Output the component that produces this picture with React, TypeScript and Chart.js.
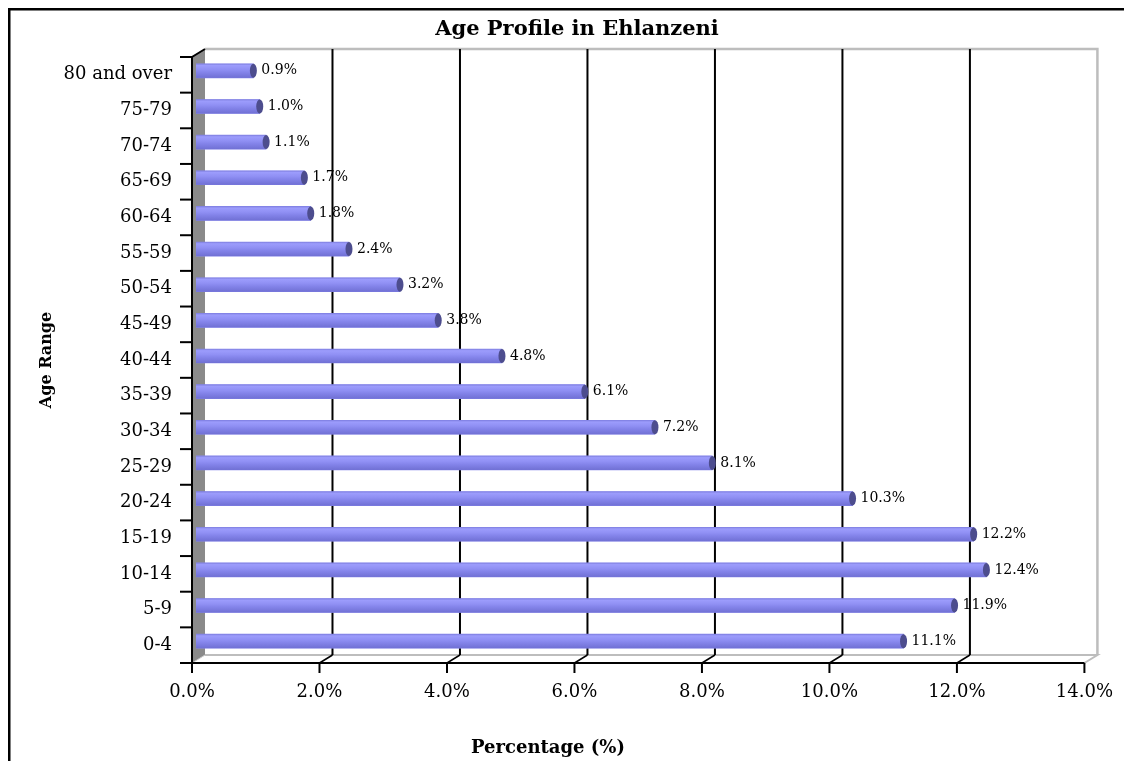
import React, { useEffect, useRef } from 'react';
import { Chart, registerables } from 'chart.js';
Chart.register(...registerables);

// Categories listed top to bottom as shown in the chart
const categories = ['80 and over', '75-79', '70-74', '65-69', '60-64', '55-59', '50-54', '45-49', '40-44', '35-39', '30-34', '25-29', '20-24', '15-19', '10-14', '5-9', '0-4'];
const values = [0.9, 1.0, 1.1, 1.7, 1.8, 2.4, 3.2, 3.8, 4.8, 6.1, 7.2, 8.1, 10.3, 12.2, 12.4, 11.9, 11.1];
const xTicks = [0, 2, 4, 6, 8, 10, 12, 14];
const chartTitle = 'Age Profile in Ehlanzeni';
const xTitle = 'Percentage (%)';
const yTitle = 'Age Range';

const FONT = "'DejaVu Serif', serif";
const DX = 13;
const DY = -8;
const W = 1124;
const H = 753;

const decorPlugin = {
  id: 'decor3d',
  beforeDraw(chart: any) {
    const ctx = chart.ctx;
    ctx.save();
    ctx.fillStyle = '#ffffff';
    ctx.fillRect(0, 0, chart.width, chart.height);
    ctx.strokeStyle = '#000';
    ctx.lineWidth = 2.5;
    ctx.beginPath();
    ctx.moveTo(1.25, chart.height + 5);
    ctx.lineTo(1.25, 1.25);
    ctx.lineTo(chart.width + 5, 1.25);
    ctx.stroke();
    ctx.restore();
  },
  beforeDatasetsDraw(chart: any) {
    const ctx = chart.ctx;
    const { left, right, top, bottom } = chart.chartArea;
    const xs = chart.scales.x;
    ctx.save();
    // back wall border (top and right)
    ctx.strokeStyle = '#BDBDBD';
    ctx.lineWidth = 2.5;
    ctx.beginPath();
    ctx.moveTo(left + DX, top + DY);
    ctx.lineTo(right + DX, top + DY);
    ctx.lineTo(right + DX, bottom + DY);
    ctx.stroke();
    // floor back edge and right diagonal
    ctx.lineWidth = 2;
    ctx.beginPath();
    ctx.moveTo(left + DX, bottom + DY);
    ctx.lineTo(right + DX, bottom + DY);
    ctx.lineTo(right, bottom);
    ctx.stroke();
    // left wall
    ctx.fillStyle = '#8A8A8A';
    ctx.beginPath();
    ctx.moveTo(left, top);
    ctx.lineTo(left + DX, top + DY);
    ctx.lineTo(left + DX, bottom + DY);
    ctx.lineTo(left, bottom);
    ctx.closePath();
    ctx.fill();
    ctx.strokeStyle = '#C8C8C8';
    ctx.lineWidth = 1;
    ctx.beginPath();
    ctx.moveTo(left + DX, bottom + DY);
    ctx.lineTo(left, bottom);
    ctx.stroke();
    // grid lines on back wall
    ctx.strokeStyle = '#000';
    ctx.lineWidth = 2;
    xTicks.forEach((v) => {
      if (v === xTicks[0] || v === xTicks[xTicks.length - 1]) return;
      const x = xs.getPixelForValue(v) + DX;
      ctx.beginPath();
      ctx.moveTo(x, top + DY);
      ctx.lineTo(x, bottom + DY);
      ctx.stroke();
    });
    // x axis line + ticks + diagonals
    ctx.beginPath();
    ctx.moveTo(left, bottom);
    ctx.lineTo(right, bottom);
    ctx.stroke();
    xTicks.forEach((v, i) => {
      const x = xs.getPixelForValue(v);
      ctx.beginPath();
      ctx.moveTo(x, bottom);
      ctx.lineTo(x, bottom + 10);
      ctx.stroke();
      if (i > 0 && i < xTicks.length - 1) {
        ctx.lineWidth = 1.5;
        ctx.beginPath();
        ctx.moveTo(x, bottom);
        ctx.lineTo(x + DX, bottom + DY);
        ctx.stroke();
        ctx.lineWidth = 2;
      }
    });
    // y axis front line, top diagonal and ticks
    ctx.beginPath();
    ctx.moveTo(left, bottom);
    ctx.lineTo(left, top);
    ctx.lineTo(left + DX, top + DY);
    ctx.stroke();
    const n = categories.length;
    for (let i = 0; i <= n; i++) {
      const y = top + (i * (bottom - top)) / n;
      ctx.beginPath();
      ctx.moveTo(left - 12, y);
      ctx.lineTo(left, y);
      ctx.stroke();
    }
    ctx.restore();
    // shift bars into mid-depth
    ctx.save();
    ctx.translate(4, -4);
  },
  afterDatasetsDraw(chart: any) {
    const ctx = chart.ctx;
    const meta = chart.getDatasetMeta(0);
    meta.data.forEach((el: any) => {
      const h = el.height;
      const y0 = el.y - h / 2;
      const g = ctx.createLinearGradient(0, y0, 0, y0 + h);
      g.addColorStop(0, '#8080E0');
      g.addColorStop(0.12, '#9C9CFC');
      g.addColorStop(0.4, '#9090F4');
      g.addColorStop(0.6, '#8484EA');
      g.addColorStop(1, '#7070D4');
      ctx.fillStyle = g;
      ctx.fillRect(el.base, y0, el.x - el.base, h);
      ctx.fillStyle = '#4D4D8E';
      ctx.beginPath();
      ctx.ellipse(el.x, el.y, 3.5, h / 2, 0, 0, Math.PI * 2);
      ctx.fill();
    });
    ctx.restore();
    // data labels
    ctx.save();
    ctx.fillStyle = '#000';
    ctx.font = `14px ${FONT}`;
    ctx.textAlign = 'left';
    ctx.textBaseline = 'middle';
    meta.data.forEach((el: any, i: number) => {
      ctx.fillText(values[i].toFixed(1) + '%', el.x + 4 + 8, el.y - 4);
    });
    ctx.restore();
  },
  afterDraw(chart: any) {
    const ctx = chart.ctx;
    ctx.save();
    ctx.fillStyle = '#000';
    ctx.textAlign = 'center';
    ctx.textBaseline = 'middle';
    ctx.font = `bold 21px ${FONT}`;
    ctx.fillText(chartTitle, 569, 22);
    ctx.font = `bold 18px ${FONT}`;
    ctx.fillText(xTitle, 540, 740);
    ctx.font = `bold 16px ${FONT}`;
    ctx.translate(39, 352);
    ctx.rotate(-Math.PI / 2);
    ctx.fillText(yTitle, 0, 0);
    ctx.restore();
  },
};

export default function App() {
  const ref = useRef<HTMLCanvasElement | null>(null);
  useEffect(() => {
    if (!ref.current) return;
    const chart = new Chart(ref.current, {
      type: 'bar',
      data: {
        labels: categories,
        datasets: [
          {
            label: 'Percentage',
            data: values,
            backgroundColor: '#8585EC',
            borderWidth: 0,
            barThickness: 14,
          },
        ],
      },
      options: {
        indexAxis: 'y',
        responsive: false,
        animation: false,
        layout: { padding: { top: 49, right: 45, bottom: 0, left: 0 } },
        plugins: {
          legend: { display: false },
          tooltip: { enabled: false },
          title: { display: false },
        },
        scales: {
          x: {
            type: 'linear',
            min: 0,
            max: 14,
            afterFit: (s: any) => {
              s.height = H - 655;
            },
            afterBuildTicks: (s: any) => {
              s.ticks = xTicks.map((v) => ({ value: v }));
            },
            ticks: {
              padding: 19,
              color: '#000',
              font: { family: FONT, size: 18 },
              callback: (v: any) => Number(v).toFixed(1) + '%',
            },
            grid: { display: false, drawTicks: false },
            border: { display: false },
          },
          y: {
            type: 'category',
            afterFit: (s: any) => {
              s.width = 184;
            },
            ticks: {
              padding: 20,
              color: '#000',
              font: { family: FONT, size: 18 },
            },
            grid: { display: false, drawTicks: false },
            border: { display: false },
          },
        },
      },
      plugins: [decorPlugin],
    });
    return () => chart.destroy();
  }, []);
  return (
    <div style={{ width: W, height: H, overflow: 'hidden' }}>
      <canvas ref={ref} width={W} height={H} style={{ display: 'block' }} />
    </div>
  );
}
